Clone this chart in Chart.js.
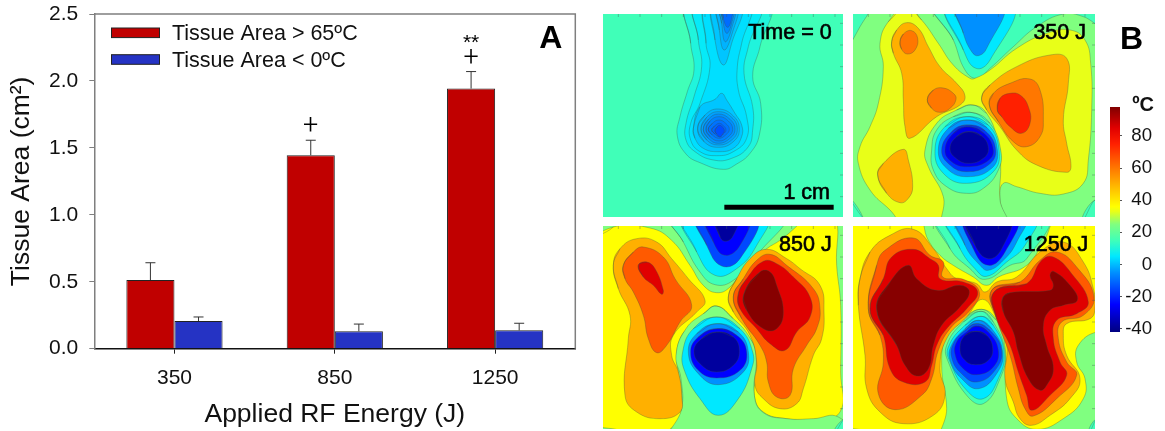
<!DOCTYPE html>
<html>
<head>
<meta charset="utf-8">
<title>Tissue area and temperature maps</title>
<script src="https://cdn.jsdelivr.net/npm/chart.js@4/dist/chart.umd.min.js"></script>
<style>
  body { margin: 0; background: #fff; width: 1165px; height: 431px; overflow: hidden; position: relative; }
  canvas { position: absolute; }
  .map { filter: blur(0.5px); }
</style>
</head>
<body>
<canvas id="bars" width="595" height="431" style="left:0;top:0"></canvas>
<canvas id="mapTime0" class="map" width="240" height="203" style="left:603px;top:14px"></canvas>
<canvas id="map350" class="map" width="242" height="203" style="left:853px;top:14px"></canvas>
<canvas id="map850" class="map" width="240" height="203" style="left:603px;top:226px"></canvas>
<canvas id="map1250" class="map" width="242" height="203" style="left:853px;top:226px"></canvas>
<canvas id="colorbar" width="70" height="290" style="left:1095px;top:70px"></canvas>
<script>
// Panel A values
const energyLabels = ['350', '850', '1250'];
const areaHot = [0.513, 1.445, 1.943];
const areaCold = [0.207, 0.13, 0.137];
const errHot = [0.129, 0.112, 0.127];
const errCold = [0.03, 0.054, 0.053];
const hotMarks = ['', '+', '+'];
const hotMarkY = [0, 1.655, 2.16];
const starMarks = ['', '', '**'];
const hotStarY = [0, 0, 2.3];

// Panel B colour bar
const barTicks = [-40, -20, 0, 20, 40, 60, 80];
const barRange = [-42, 98];
const jetStops = [[-42, '#000080'], [-25, '#0000ff'], [-5, '#0090ff'], [5, '#00e8ff'], [15, '#40ffb8'],
  [25, '#80ff80'], [33, '#e8ff18'], [36, '#ffff00'], [50, '#ffb000'], [65, '#ff5a00'], [75, '#ff2000'], [85, '#e00000'], [98, '#800000']];

// Contours: [temperature of the band, outline]. Outlines are map positions, y downwards
const time0Base = 15;
const time0 = [
  [10, [[265,-20],[272,100],[282,180],[262,245],[240,320],[232,378],[258,432],[300,458],[370,478],[410,462],[450,430],[478,375],[482,280],[458,200],[480,110],[505,-20]]],
  [6, [[288,-20],[295,90],[305,170],[282,260],[258,340],[258,390],[285,425],[340,450],[395,445],[445,410],[458,360],[458,290],[432,190],[445,110],[478,-20]]],
  [4, [[320,-20],[318,100],[330,170],[300,280],[272,340],[272,390],[300,425],[350,437],[400,425],[440,385],[440,320],[415,240],[412,170],[425,100],[450,-20]]],
  [1, [[340,-20],[345,90],[370,165],[395,100],[425,-20]]],
  [1, [[280,355],[300,290],[345,268],[365,250],[380,270],[405,310],[425,345],[425,380],[400,415],[355,425],[310,415],[285,385]]],
  [-1, [[293,355],[315,315],[355,297],[400,318],[418,358],[400,395],[355,412],[312,395]]],
  [-3, [[303,358],[320,322],[355,305],[395,322],[412,358],[395,390],[355,405],[320,390]]],
  [-5, [[310,358],[325,328],[355,312],[390,328],[405,358],[390,385],[355,400],[325,385]]],
  [-7, [[318,358],[330,333],[357,320],[385,333],[398,358],[385,380],[357,393],[330,380]]],
  [-9, [[325,358],[337,340],[357,330],[377,340],[388,358],[377,375],[357,385],[337,375]]],
  [-11, [[335,360],[345,347],[358,340],[370,347],[378,360],[370,372],[358,380],[345,372]]],
  [-14, [[345,362],[352,350],[360,346],[368,352],[373,362],[368,372],[360,381],[350,372]]],
  [-1, [[352,-20],[358,60],[372,120],[395,75],[412,-20]]],
  [-3, [[358,-20],[365,40],[375,95],[392,65],[405,-20]]],
  [-6, [[362,-20],[368,30],[380,70],[395,40],[402,-20]]],
  [-10, [[368,-20],[370,25],[383,52],[395,25],[398,-20]]]
];

const map350Base = 25;
const map350 = [
  [15, [[-20,-20],[60,-20],[30,50],[-20,120]]],
  [15, [[-20,555],[40,625],[20,660],[-20,660]]],
  [15, [[740,570],[695,640],[760,660]]],
  [15, [[255,-20],[310,90],[345,180],[380,205],[420,175],[490,110],[560,50],[640,12],[700,20],[760,50],[760,-20]]],
  [5, [[290,-20],[340,120],[378,175],[420,150],[490,-20]]],
  [-5, [[318,-20],[340,70],[365,125],[385,137],[410,115],[460,-20]]],
  [33, [[170,-10],[215,30],[265,100],[310,165],[360,205],[375,205],[420,180],[500,115],[590,70],[660,60],[705,90],[722,160],[725,300],[715,450],[700,520],[640,552],[570,550],[500,530],[460,520],[450,570],[465,650],[290,650],[170,650],[120,600],[60,540],[25,460],[30,410],[60,350],[85,280],[100,170],[90,100],[115,35]]],
  [25, [[368,285],[410,310],[445,400],[452,470],[450,570],[470,650],[285,650],[280,560],[235,470],[225,420],[260,340],[320,300]]],
  [15, [[368,308],[420,340],[452,420],[445,480],[400,535],[350,550],[290,530],[250,480],[245,420],[260,360],[310,320]]],
  [5, [[350,320],[415,345],[447,420],[430,485],[350,520],[280,490],[255,420],[285,350]]],
  [-5, [[350,330],[410,352],[442,420],[425,475],[350,500],[290,475],[265,420],[295,355]]],
  [-18, [[350,345],[405,362],[437,420],[415,465],[350,485],[300,465],[275,420],[305,365]]],
  [-28, [[350,350],[400,368],[430,420],[410,455],[350,470],[305,455],[285,420],[310,370]]],
  [-38, [[355,365],[395,378],[415,415],[400,445],[355,460],[318,445],[300,415],[320,380]]],
  [50, [[125,95],[140,60],[170,38],[205,55],[235,110],[270,170],[320,220],[345,258],[330,285],[260,320],[180,385],[165,350],[160,270],[155,190],[130,130]]],
  [60, [[150,95],[160,72],[185,62],[203,85],[195,120],[172,132],[155,118]]],
  [60, [[232,268],[250,240],[280,234],[310,250],[318,268],[300,295],[270,307],[245,295]]],
  [50, [[395,262],[420,225],[500,170],[600,135],[650,145],[655,220],[640,330],[650,400],[663,470],[650,487],[560,465],[500,420],[450,350],[410,300]]],
  [60, [[418,285],[430,250],[480,220],[540,207],[570,240],[580,330],[570,380],[530,410],[490,395],[445,335]]],
  [75, [[442,300],[450,265],[480,250],[510,255],[535,290],[540,340],[515,370],[480,350],[455,320]]],
  [50, [[83,495],[100,460],[160,418],[175,450],[188,530],[175,565],[150,578],[110,550]]]
];

const map850Base = 25;
const map850 = [
  [15, [[210,-20],[250,60],[300,150],[345,188],[400,175],[470,100],[550,-20]]],
  [5, [[250,-20],[290,90],[345,160],[410,140],[470,70],[500,-20]]],
  [-15, [[290,-20],[320,70],[365,132],[420,110],[470,-20]]],
  [-25, [[318,-20],[340,60],[375,100],[420,70],[445,-20]]],
  [-38, [[345,-20],[360,45],[378,58],[400,40],[415,-20]]],
  [36, [[-20,70],[40,15],[150,18],[215,55],[270,130],[310,190],[350,212],[390,195],[440,130],[500,80],[540,55],[640,-20],[703,-20],[710,130],[722,250],[722,450],[720,570],[640,592],[560,590],[490,570],[463,520],[470,440],[450,350],[350,300],[240,350],[245,560],[215,618],[140,640],[60,625],[-20,590]]],
  [25, [[350,252],[400,290],[445,340],[468,400],[463,520],[490,572],[560,590],[640,590],[715,585],[770,660],[210,660],[245,560],[243,470],[228,400],[258,320],[310,275]]],
  [15, [[740,590],[700,640],[760,660]]],
  [5, [[350,285],[420,320],[458,390],[455,440],[415,530],[355,580],[300,530],[255,450],[248,390],[280,320]]],
  [-5, [[350,305],[415,330],[445,390],[430,450],[355,488],[295,455],[265,390],[290,335]]],
  [-25, [[350,320],[410,340],[440,390],[420,445],[350,468],[295,445],[272,390],[295,345]]],
  [-38, [[350,330],[400,345],[418,388],[400,430],[350,450],[305,430],[282,388],[305,350]]],
  [50, [[40,130],[60,80],[110,50],[170,60],[215,110],[265,170],[315,235],[290,270],[220,340],[215,400],[235,450],[245,520],[240,570],[180,590],[110,570],[75,520],[85,350],[90,280],[55,200]]],
  [65, [[70,130],[100,90],[130,75],[190,105],[225,170],[275,250],[240,300],[200,370],[170,392],[145,350],[130,280],[100,210],[75,170]]],
  [85, [[115,130],[140,120],[165,140],[190,205],[185,217],[160,190],[130,165]]],
  [50, [[385,225],[410,170],[450,110],[500,82],[560,110],[600,140],[660,190],[672,270],[665,350],[640,400],[610,500],[590,545],[540,560],[490,530],[465,490],[470,420],[450,340],[400,270]]],
  [65, [[400,225],[430,170],[470,115],[510,97],[560,130],[640,200],[660,260],[650,320],[620,370],[580,440],[570,520],[530,525],[505,480],[500,420],[480,370],[425,290]]],
  [85, [[415,215],[440,170],[490,118],[530,125],[580,165],[630,225],[630,285],[590,330],[555,385],[510,365],[470,320],[420,260]]],
  [97, [[432,215],[480,150],[510,150],[530,190],[550,270],[530,320],[490,320],[440,265]]]
];

const map1250Base = 25;
const map1250 = [
  [36, [[-20,55],[40,-20],[200,-20],[235,55],[270,100],[310,130],[370,165],[410,190],[445,165],[530,130],[580,60],[630,-20],[780,-20],[780,660],[170,660],[40,625],[-20,600]]],
  [25, [[395,262],[440,295],[465,370],[470,530],[500,590],[560,622],[640,590],[700,530],[705,470],[680,420],[685,370],[740,330],[790,340],[790,670],[280,670],[290,560],[275,430],[290,340],[340,290]]],
  [15, [[745,590],[715,640],[770,670]]],
  [15, [[262,-20],[300,80],[360,140],[405,172],[480,130],[530,110],[590,-20]]],
  [5, [[290,-20],[330,80],[375,140],[410,163],[470,120],[525,70],[555,-20]]],
  [-5, [[320,-20],[345,70],[390,130],[415,145],[460,115],[500,60],[525,-20]]],
  [-25, [[345,-20],[370,80],[415,130],[465,90],[500,-20]]],
  [-38, [[348,-20],[375,70],[415,110],[455,80],[480,-20]]],
  [15, [[393,268],[430,300],[465,390],[450,470],[400,545],[350,520],[295,420],[290,370],[340,300]]],
  [5, [[393,283],[430,310],[462,390],[445,470],[400,530],[350,505],[300,420],[295,375],[345,310]]],
  [-5, [[385,295],[425,320],[458,390],[440,455],[385,500],[335,470],[302,420],[302,375],[345,320]]],
  [-15, [[380,305],[420,325],[455,385],[435,445],[380,480],[335,455],[306,410],[310,365],[345,325]]],
  [-25, [[380,312],[415,330],[445,385],[430,435],[380,458],[340,440],[316,400],[320,360],[350,330]]],
  [-38, [[378,328],[410,340],[428,380],[415,415],[378,428],[345,415],[330,380],[345,340]]],
  [50, [[30,170],[60,90],[120,40],[190,22],[250,80],[290,140],[320,170],[380,185],[405,210],[440,180],[500,165],[570,90],[640,60],[700,120],[730,200],[735,260],[720,290],[650,305],[640,340],[650,400],[690,470],[660,530],[600,580],[545,610],[510,590],[490,540],[465,470],[470,370],[440,290],[398,232],[350,285],[290,350],[270,440],[285,520],[250,580],[160,605],[90,570],[50,500],[45,400],[25,250]]],
  [65, [[55,260],[80,130],[105,85],[190,48],[240,100],[280,120],[278,165],[340,172],[388,210],[360,265],[300,320],[265,385],[245,470],[215,520],[135,563],[85,515],[100,420],[90,340]]],
  [85, [[60,260],[100,170],[125,105],[190,82],[240,110],[265,130],[270,170],[340,180],[383,210],[350,260],[290,320],[260,370],[245,430],[225,480],[160,480],[120,440],[100,340]]],
  [97, [[80,262],[120,180],[175,130],[200,170],[260,205],[330,190],[358,210],[330,255],[275,310],[250,370],[235,440],[200,462],[165,430],[140,370]]],
  [65, [[425,205],[510,180],[570,115],[620,90],[680,135],[732,225],[700,280],[635,300],[625,350],[650,420],[680,460],[620,530],[550,582],[525,560],[505,500],[480,400],[440,290]]],
  [85, [[432,210],[530,185],[575,115],[610,105],[665,155],[715,240],[680,275],[620,295],[610,350],[630,420],[650,460],[600,520],[545,565],[530,520],[505,450],[480,370],[440,290]]],
  [97, [[458,228],[480,212],[600,205],[610,190],[600,160],[610,148],[660,190],[682,235],[640,250],[600,265],[580,310],[590,370],[610,440],[590,490],[570,505],[535,470],[505,390],[490,330],[460,270]]]
];

// Scale bar, map positions (1 cm)
const scaleBarX = [373, 701];
const scaleBarY = [592, 592];
const topTickX = [55, 120, 185, 250, 315, 380, 445, 510, 575, 640, 705];
const rightTickY = [40, 105, 170, 235, 300, 365, 430, 495, 560];

function hexRgb(h) { return [1, 3, 5].map(i => parseInt(h.substr(i, 2), 16)); }

// colour for a temperature, same scale as the colour bar
function jet(t) {
  for (let i = 1; i < jetStops.length; i++) {
    if (t <= jetStops[i][0]) {
      const a = jetStops[i - 1], b = jetStops[i];
      const f = Math.max(0, (t - a[0]) / (b[0] - a[0]));
      const ca = hexRgb(a[1]), cb = hexRgb(b[1]);
      return 'rgb(' + ca.map((c, k) => Math.round(c + (cb[k] - c) * f)).join(',') + ')';
    }
  }
  return jetStops[jetStops.length - 1][1];
}

const sans = '"Liberation Sans", Arial, sans-serif';

// Error bars, frame, legend and labels of panel A
const panelAExtras = {
  id: 'panelAExtras',
  afterDatasetsDraw(chart) {
    const { ctx, chartArea: a, scales: { y } } = chart;
    ctx.save();
    ctx.strokeStyle = '#7f7f7f';
    ctx.lineWidth = 1.5;
    ctx.beginPath();
    ctx.moveTo(a.left, a.top); ctx.lineTo(a.right, a.top); ctx.lineTo(a.right, a.bottom);
    ctx.stroke();

    [errHot, errCold].forEach((errs, d) => {
      chart.getDatasetMeta(d).data.forEach((bar, i) => {
        const value = chart.data.datasets[d].data[i];
        const top = y.getPixelForValue(value + errs[i]);
        ctx.strokeStyle = '#333';
        ctx.lineWidth = 1;
        ctx.beginPath();
        ctx.moveTo(bar.x, y.getPixelForValue(value));
        ctx.lineTo(bar.x, top);
        ctx.moveTo(bar.x - 5, top);
        ctx.lineTo(bar.x + 5, top);
        ctx.stroke();
      });
    });

    ctx.fillStyle = '#000';
    ctx.textAlign = 'center';
    ctx.textBaseline = 'middle';
    chart.getDatasetMeta(0).data.forEach((bar, i) => {
      ctx.font = '300 27px Roboto, ' + sans;
      if (hotMarks[i]) ctx.fillText(hotMarks[i], bar.x, y.getPixelForValue(hotMarkY[i]));
      ctx.font = '21px ' + sans;
      if (starMarks[i]) ctx.fillText(starMarks[i], bar.x, y.getPixelForValue(hotStarY[i]) + 2);
    });

    // legend
    ctx.textAlign = 'left';
    chart.data.datasets.forEach((ds, d) => {
      const top = 28 + d * 26.7;
      ctx.fillStyle = ds.backgroundColor;
      ctx.strokeStyle = '#222';
      ctx.lineWidth = 1;
      ctx.fillRect(111.5, top, 48, 9.6);
      ctx.strokeRect(111.5, top, 48, 9.6);
      ctx.fillStyle = '#111';
      ctx.font = '21.5px ' + sans;
      ctx.fillText(ds.label, 172, top + 6.5);
    });

    ctx.fillStyle = '#000';
    ctx.font = 'bold 32px ' + sans;
    ctx.textAlign = 'center';
    ctx.fillText('A', 550.7, 39.5);
    ctx.restore();
  }
};

new Chart(document.getElementById('bars'), {
  type: 'bar',
  data: {
    labels: energyLabels,
    datasets: [
      { label: 'Tissue Area > 65ºC', data: areaHot, backgroundColor: '#c00000' },
      { label: 'Tissue Area < 0ºC', data: areaCold, backgroundColor: '#2533c4' }
    ]
  },
  options: {
    responsive: false,
    animation: false,
    layout: { padding: { top: 14, right: 19.7, left: 0, bottom: 0 } },
    datasets: { bar: { categoryPercentage: 0.6, barPercentage: 1, borderWidth: 1, borderColor: '#222' } },
    plugins: { legend: { display: false }, tooltip: { enabled: false } },
    scales: {
      x: {
        grid: { offset: false, drawOnChartArea: false, color: '#222', tickLength: 5 },
        border: { color: '#111', width: 1.5 },
        ticks: { color: '#111', font: { family: sans, size: 21 }, padding: 12 },
        title: { display: true, text: 'Applied RF Energy (J)', color: '#111', font: { family: sans, size: 26.5 }, padding: { top: 8, bottom: 0 } },
        afterFit(s) { s.height = 82.3; s.paddingLeft = 0; s.paddingRight = 0; }
      },
      y: {
        min: 0,
        max: 2.5,
        grid: { drawOnChartArea: false, color: '#7f7f7f', tickLength: 5 },
        border: { color: '#7f7f7f', width: 1.5 },
        ticks: { stepSize: 0.5, color: '#111', font: { family: sans, size: 21 }, padding: 11, callback: v => v.toFixed(1) },
        title: { display: true, text: 'Tissue Area (cm²)', color: '#111', font: { family: sans, size: 26.5 }, padding: { top: 6, bottom: 0 } },
        afterFit(s) { s.width = 94.3; s.paddingTop = 0; s.paddingBottom = 0; }
      }
    }
  },
  plugins: [panelAExtras]
});

// Text on a map, placed in map positions
const mapText = {
  id: 'mapText',
  afterDatasetsDraw(chart, args, opts) {
    const { ctx, scales: { x, y } } = chart;
    ctx.save();
    ctx.fillStyle = '#000';
    ctx.strokeStyle = '#000';
    ctx.lineWidth = 0.6;
    ctx.textAlign = 'right';
    ctx.textBaseline = 'middle';
    ctx.font = '21.5px ' + sans;
    opts.items.forEach(t => {
      ctx.fillText(t.text, x.getPixelForValue(t.x), y.getPixelForValue(t.y));
      ctx.strokeText(t.text, x.getPixelForValue(t.x), y.getPixelForValue(t.y));
    });
    ctx.restore();
  }
};

function drawMap(id, baseLevel, contours, items, xMax, extra) {
  const canvas = document.getElementById(id);
  canvas.style.backgroundColor = jet(baseLevel);
  const bands = contours.map(([level, outline]) => ({
    type: 'scatter',
    // wrapped one vertex past each end so the seam of the outline stays smooth
    data: outline.slice(-1).concat(outline, outline.slice(0, 2)).map(([x, y]) => ({ x, y })),
    showLine: true,
    tension: 0.45,
    capBezierPoints: false,
    fill: 'shape',
    backgroundColor: jet(level),
    borderColor: 'rgba(60,80,60,0.45)',
    borderWidth: 0.7,
    pointRadius: 0
  }));
  // edge ticks go on top of the bands
  const ticks = [
    { data: topTickX.map(x => ({ x, y: 12 })), rotation: 90 },
    { data: rightTickY.map(y => ({ x: xMax, y })), rotation: 0 }
  ].map(t => ({
    type: 'scatter',
    data: t.data,
    pointStyle: 'line',
    pointRotation: t.rotation,
    pointRadius: 3,
    pointBorderColor: 'rgba(70,90,90,0.4)',
    pointBorderWidth: 1,
    showLine: false
  }));
  new Chart(canvas, {
    type: 'scatter',
    // the library paints the first dataset last, so the stack is turned round
    data: { datasets: (extra || []).concat(ticks, bands.reverse()) },
    options: {
      responsive: false,
      animation: false,
      layout: { padding: 0, autoPadding: false },
      plugins: { legend: { display: false }, tooltip: { enabled: false }, mapText: { items } },
      scales: {
        x: { type: 'linear', display: false, min: 9, max: xMax },
        y: { type: 'linear', display: false, min: 12, max: 621, reverse: true }
      }
    },
    plugins: [mapText]
  });
}

const scaleBar = {
  type: 'scatter',
  data: scaleBarX.map((x, i) => ({ x, y: scaleBarY[i] })),
  showLine: true,
  borderColor: '#000',
  borderWidth: 5,
  pointRadius: 0
};

drawMap('mapTime0', time0Base, time0, [{ text: 'Time = 0', x: 695, y: 68 }, { text: '1 cm', x: 690, y: 550 }], 729, [scaleBar]);
drawMap('map350', map350Base, map350, [{ text: '350 J', x: 708, y: 68 }], 735);
drawMap('map850', map850Base, map850, [{ text: '850 J', x: 695, y: 68 }], 729);
drawMap('map1250', map1250Base, map1250, [{ text: '1250 J', x: 715, y: 68 }], 735);

// Colour bar: one floating bar over the temperature scale
new Chart(document.getElementById('colorbar'), {
  type: 'bar',
  data: {
    labels: ['ºC'],
    datasets: [{
      data: [barRange],
      categoryPercentage: 1,
      barPercentage: 1,
      backgroundColor(c) {
        const { chart } = c;
        if (!chart.chartArea) return '#888';
        const y = chart.scales.y;
        const g = chart.ctx.createLinearGradient(0, y.getPixelForValue(barRange[0]), 0, y.getPixelForValue(barRange[1]));
        jetStops.forEach(([t, col]) => g.addColorStop((t - barRange[0]) / (barRange[1] - barRange[0]), col));
        return g;
      }
    }]
  },
  options: {
    responsive: false,
    animation: false,
    layout: { padding: { top: 37, bottom: 28, left: 15, right: 13 } },
    plugins: { legend: { display: false }, tooltip: { enabled: false } },
    scales: {
      x: { display: false },
      y: {
        position: 'right',
        min: barRange[0],
        max: barRange[1],
        afterBuildTicks(s) { s.ticks = barTicks.map(value => ({ value })); },
        grid: { drawOnChartArea: false, color: '#555', tickLength: 2 },
        border: { display: false },
        ticks: { color: '#111', font: { family: sans, size: 18.6 }, padding: 1, crossAlign: 'far' },
        afterFit(s) { s.width = 32; s.paddingTop = 0; s.paddingBottom = 0; }
      }
    }
  },
  plugins: [{
    id: 'barUnit',
    afterDraw(chart) {
      const { ctx } = chart;
      ctx.save();
      ctx.fillStyle = '#111';
      ctx.font = 'bold 20px ' + sans;
      ctx.textAlign = 'right';
      ctx.textBaseline = 'middle';
      ctx.fillText(chart.data.labels[0], 59, 35);
      ctx.restore();
    }
  }]
});

// the "B" sits on its own above the colour bar
(function () {
  const b = document.createElement('div');
  b.textContent = 'B';
  b.style.cssText = 'position:absolute;left:1120px;top:20px;font:bold 32px ' + sans.replace(/"/g, "'") + ';line-height:37px;color:#000';
  document.body.appendChild(b);
})();
</script>
</body>
</html>
